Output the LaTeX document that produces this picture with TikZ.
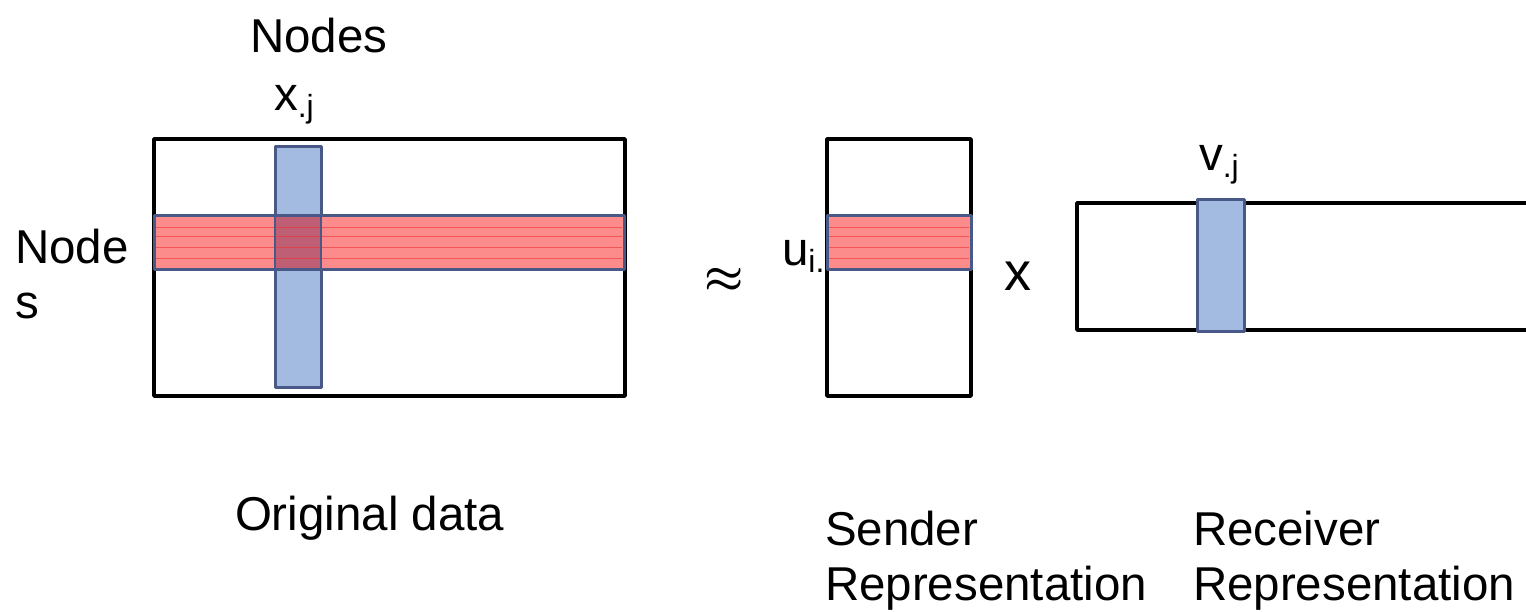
\documentclass[tikz,border=0pt]{standalone}
\usepackage{graphicx}
\usepackage{fontspec}
\setmainfont{Liberation Sans}
\definecolor{colfill}{RGB}{163,187,224}
\definecolor{coledge}{RGB}{72,88,135}
\definecolor{rowfill}{RGB}{252,140,140}
\definecolor{rowline}{RGB}{240,50,50}
\definecolor{overlap}{RGB}{190,95,118}
\newcommand{\bigtxt}{\fontsize{47.5}{56}\selectfont}
\newcommand{\subtxt}[1]{\raisebox{-7pt}{\fontsize{32}{32}\selectfont #1}}
\begin{document}
\begin{tikzpicture}[x=1pt,y=-1pt,
  lbl/.style={anchor=base west,inner sep=0pt,outer sep=0pt,font=\bigtxt},
  matbox/.style={draw=black,line width=3.6pt,line join=round},
  colbar/.style={fill=colfill,draw=coledge,line width=3pt,line join=round},
  rowbar/.style={fill=rowfill},
  rowedge/.style={draw=coledge,line width=3pt,line join=round},
  stripe/.style={draw=rowline,line width=0.5pt,opacity=0.6}]
\useasboundingbox (0,0) rectangle (1526,611);
\clip (0,0) rectangle (1526,611);
% original data matrix
\draw[matbox] (154,139) rectangle (625,396);
\draw[colbar] (275,146) rectangle (321,387);
\fill[rowbar] (154,215) rectangle (624,269);
\fill[overlap] (275,215) rectangle (321,269);
\foreach \yy in {227,236,247,258} \draw[stripe] (156,\yy) -- (622,\yy);
\draw[rowedge] (154,215) rectangle (624,269);
\draw[coledge,line width=1.5pt] (275,215) -- (275,269) (321,215) -- (321,269);
% sender matrix
\draw[matbox] (827,139) rectangle (971,396);
\fill[rowbar] (827,215) rectangle (971,269);
\foreach \yy in {227,236,247,258} \draw[stripe] (829,\yy) -- (969,\yy);
\draw[rowedge] (827,215) rectangle (971,269);
% receiver matrix
\draw[matbox] (1540,203) -- (1077,203) -- (1077,330) -- (1540,330);
\draw[colbar] (1197,199) rectangle (1244,331);
% labels
\node[lbl] (nodestop) at (250,52) {Nodes};
\node[lbl] (xj) at (274,110) {x\subtxt{.j}};
\node[lbl] (nodesa) at (15,263) {Node};
\node[lbl] (nodesb) at (15,318) {s};
\node[inner sep=0pt,outer sep=0pt] (approx) at (724,280) {\scalebox{4.4}{\boldmath$\approx$}};
\node[lbl] (ui) at (782,265) {u\subtxt{i.}};
\node[lbl,font=\fontsize{54}{54}\selectfont] (times) at (1004,290) {x};
\node[lbl] (vj) at (1199,170) {v\subtxt{.j}};
\node[lbl] (orig) at (235,530) {Original data};
\node[lbl] (senda) at (825,545) {Sender};
\node[lbl] (sendb) at (825,600) {Representation};
\node[lbl] (reca) at (1193,545) {Receiver};
\node[lbl] (recb) at (1193,600) {Representation};
\end{tikzpicture}
\end{document}
